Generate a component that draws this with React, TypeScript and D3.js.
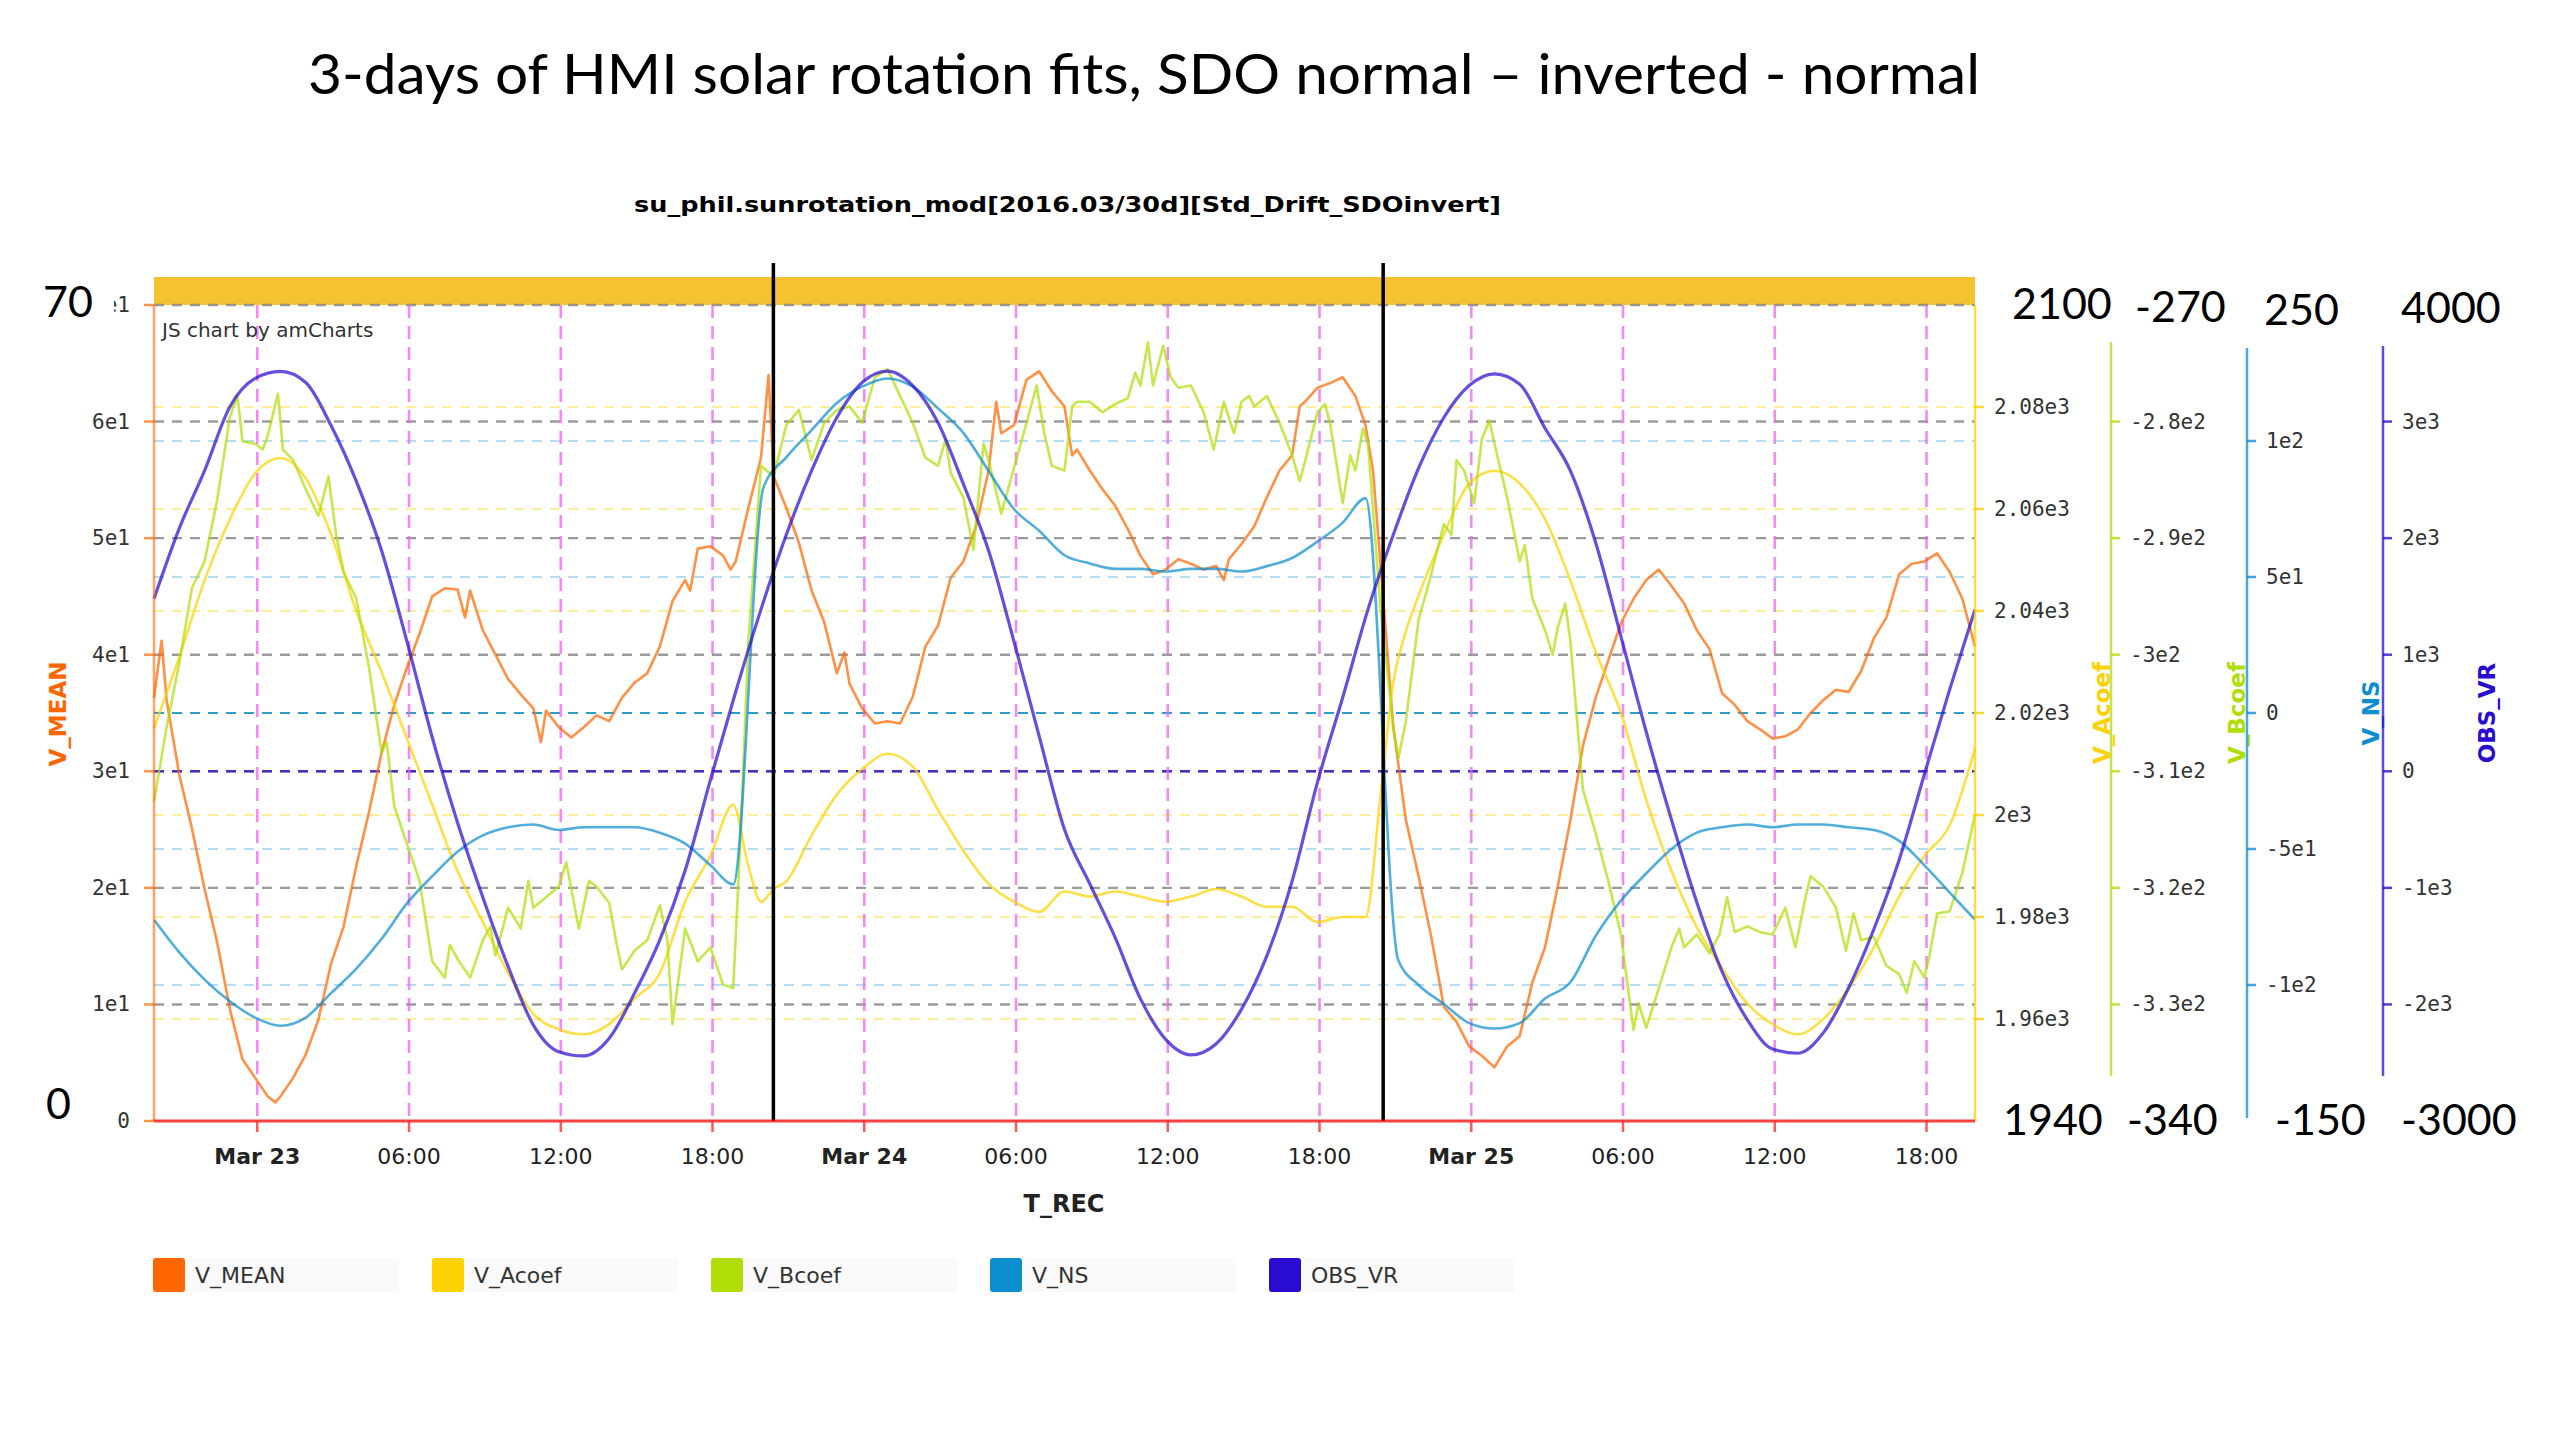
import * as d3 from 'd3'

// hours after the left edge of the plot (Mar 22 19:55)
const T0 = new Date(2016, 2, 22, 19, 55)
const SPAN_HOURS = 72

const vMean: [number, number][] = [
  [0,36.3],[0.3,41.2],[0.5,36.1],[1,29.7],[1.5,25.1],[2,19.9],[2.5,15.3],[3,9.6],[3.5,5.3],[4,3.7],[4.5,2.1],[4.8,1.6],[5,2.1],[5.5,3.7],[6,5.7],[6.5,8.7],[7,13.5],[7.5,16.7],[8,21.9],[8.5,26.5],[9,31.6],[9.5,35.7],[10,38.9],[10.5,41.8],[11,45.0],[11.5,45.7],[12,45.6],[12.3,43.2],[12.5,45.5],[13,42.1],[13.5,40.0],[14,37.9],[14.5,36.6],[15,35.4],[15.3,32.5],[15.5,35.2],[16,33.8],[16.5,32.9],[17,33.8],[17.5,34.8],[18,34.3],
  [18.5,36.3],[19,37.6],[19.5,38.4],[20,40.7],[20.5,44.6],[21,46.4],[21.2,45.5],[21.5,49.1],[22,49.3],[22.5,48.5],[22.8,47.3],[23,48],[23.5,52.6],[24,56.9],[24.3,64],[24.5,55.3],[25,52.6],[25.5,49.6],[26,45.5],[26.5,42.8],[27,38.4],[27.3,40.2],[27.5,37.5],[28,35.4],[28.5,34.1],[29,34.3],[29.5,34.1],[30,36.4],[30.5,40.7],[31,42.5],[31.5,46.6],[32,48],[32.5,51],[33,55.8],[33.3,61.7],[33.5,59],[34,59.7],[34.5,63.6],[35,64.3],[35.5,62.6],[36,61.3],[36.3,57.1],
  [36.5,57.6],[37,55.8],[37.5,54.2],[38,52.8],[38.5,50.8],[39,48.5],[39.5,46.9],[40,47.3],[40.5,48.2],[41,47.8],[41.5,47.3],[42,47.6],[42.3,46.4],[42.5,48.2],[43,49.5],[43.5,51],[44,53.5],[44.5,55.8],[45,57.1],[45.3,61.3],[45.5,61.7],[46,62.9],[46.5,63.3],[47,63.8],[47.5,62.2],[47.9,59.7],[48.2,55.8],[48.5,47.6],[49,33.8],[49.5,25.8],[50,21],[50.5,15.8],[51,9.8],[51.5,8.5],[52,6.4],[52.5,5.6],[53,4.6],[53.5,6.4],[54,7.3],[54.5,11.9],
  [55,14.9],[55.5,20.1],[56,25.8],[56.5,32.2],[57,36.3],[57.5,39.5],[58,42.7],[58.5,44.8],[59,46.4],[59.5,47.3],[60,45.9],[60.5,44.4],[61,42.1],[61.5,40.5],[62,36.7],[62.5,35.7],[63,34.3],[63.5,33.6],[64,32.8],[64.5,33],[65,33.6],[65.5,35],[66,36.1],[66.5,37],[67,36.8],[67.5,38.6],[68,41.4],[68.5,43.2],[69,46.9],[69.5,47.8],[70,48],[70.5,48.7],[71,47.1],[71.5,44.8],[72,40.7],
]

const vAcoef: [number, number][] = [
  [0,2017],[1,2031],[2,2046],[3,2058],[4,2067],[5,2070],[6,2066],[7,2055],[8,2040],[9,2028],[10,2015],[11,2002],[12,1989],[13,1979],[14,1969],[15,1961],[16,1958],[17,1957],[18,1959],[19,1964],[20,1969],[21,1983],[22,1992],[22.9,2002],[23.5,1990],[24,1983],[24.5,1985.5],[25,1987],[26,1996],[27,2004],[28,2009],[29,2012],[30,2009.5],[31,2001],[32,1993],[33,1986.5],[34,1983],[35,1981],[36,1985],
  [37,1984],[38,1985],[39,1984],[40,1983],[41,1984],[42,1985.5],[43,1984],[44,1982],[45,1982],[46,1979],[47,1980],[47.9,1980],[48.5,2004],[49,2026],[49.5,2036],[50,2043],[51,2055],[52,2065],[53,2067.5],[54,2065],[55,2058],[56,2046],[57,2032],[58,2020],[59,2003],[60,1989],[61,1978],[62,1970],[63,1963],[64,1959],[65,1957],[66,1960],[67,1966],[68,1974],[69,1984],[70,1992],[71,1998],[72,2013],
]

const vBcoef: [number, number][] = [
  [0,-312.6],[0.5,-306.2],[1,-300.7],[1.5,-294.3],[2,-292],[2.5,-286.7],[3,-279.6],[3.3,-277.8],[3.5,-281.7],[4,-281.9],[4.3,-282.4],[4.5,-281.2],[4.9,-277.6],[5.1,-282.4],[5.5,-283.3],[6,-285.8],[6.5,-288.1],[6.9,-284.7],[7.2,-289.7],[7.5,-292.9],[8,-295.2],[8.5,-301.1],[9,-308.4],[9.2,-307.5],[9.5,-313],[10,-316.2],[10.5,-319.4],[11,-326.3],[11.5,-327.7],[11.7,-324.9],[12,-326.1],[12.5,-327.7],[13,-324.5],[13.3,-323.3],[13.5,-325.8],[14,-321.7],[14.5,-323.5],[14.8,-319.4],[15,-321.7],[15.5,-320.8],[16,-319.9],[16.3,-317.8],[16.8,-323.5],[17.2,-319.4],[17.5,-319.9],[18,-321.3],[18.3,-324.9],
  [18.5,-327],[19,-325.4],[19.5,-324.5],[20,-321.5],[20.3,-324.5],[20.5,-331.7],[21,-323.5],[21.5,-326.3],[22,-325.1],[22.5,-328.3],[22.9,-328.6],[23.2,-315.3],[23.5,-298.8],[24,-283.8],[24.5,-284.7],[25,-280.3],[25.5,-279],[26,-283.3],[26.5,-280.1],[27,-279],[27.5,-278.7],[28,-280.1],[28.5,-276.2],[29,-275.5],[29.5,-277.8],[30,-280.1],[30.5,-283.1],[31,-283.8],[31.3,-281.5],[31.5,-284.4],[32,-286.5],[32.4,-291],[32.8,-281.9],[33,-283.3],[33.5,-287.9],[34,-284],[34.5,-280.1],[34.9,-276.9],[35.2,-281],[35.5,-283.8],[36,-284.2],[36.3,-278.7],
  [36.5,-278.3],[37,-278.3],[37.5,-279.2],[38,-278.5],[38.5,-278],[38.8,-275.8],[39,-276.9],[39.3,-273.2],[39.5,-276.9],[39.9,-273.5],[40.2,-276.2],[40.5,-277.1],[41,-276.9],[41.5,-279.2],[41.9,-282.4],[42.3,-278.3],[42.7,-281],[43,-278.3],[43.3,-277.8],[43.5,-278.7],[44,-277.8],[44.5,-280.1],[45,-282.9],[45.3,-285.1],[45.5,-283.5],[46,-279.2],[46.3,-278.5],[46.5,-280.1],[47,-287],[47.3,-282.9],[47.5,-284.2],[47.8,-280.6],[48,-281.9],[48.5,-296.1],[49,-306.2],[49.2,-308.9],[49.5,-305.7],[50,-297],[50.5,-293.1],[51,-288.8],[51.3,-289.7],[51.5,-283.3],[51.8,-284.2],[52,-285.6],[52.2,-287],[52.5,-281.5],[52.8,-279.9],[53,-281.9],[53.5,-286.5],[54,-292],[54.2,-290.6],[54.5,-295.2],
  [55,-297.9],[55.3,-300],[55.5,-297.7],[55.8,-295.6],[56,-298.8],[56.5,-311.6],[57,-315.3],[57.5,-319.4],[58,-324],[58.5,-332.2],[58.7,-329.9],[59,-332],[59.5,-328.6],[60,-325.1],[60.3,-323.5],[60.5,-325.1],[61,-324],[61.5,-325.6],[61.9,-324],[62.2,-320.8],[62.5,-323.8],[63,-323.3],[63.5,-323.8],[64,-324],[64.5,-321.7],[64.9,-325.1],[65.3,-320.8],[65.5,-319],[66,-319.9],[66.5,-321.7],[66.9,-325.4],[67.2,-322.2],[67.5,-324.5],[68,-324.2],[68.5,-326.7],[69,-327.4],[69.3,-329],[69.6,-326.3],[70,-327.7],[70.2,-325.8],[70.5,-322.2],[71,-322],[71.5,-318.7],[72,-313.7],
]

const vNS: [number, number][] = [
  [0,-76],[1,-88],[2,-98],[3,-106],[4,-112],[5,-115],[6,-112],[7,-103],[8,-94],[9,-83],[10,-70],[11,-60],[12,-51],[13,-45],[14,-42],[15,-41],[16,-43],[17,-42],[18,-42],[19,-42],[20,-44],[21,-48],[22,-56],[22.9,-63],[24.1,83],[25,94],[26,104],[27,114],[28,120],[29,123],[30,120],[31,112],[32,103],[33,89],[34,75],[35,67],[36,58],
  [37,55],[38,53],[39,53],[40,52],[41,53],[42,53],[43,52],[44,54],[45,57],[46,63],[47,70],[47.9,79],[49.2,-91],[50,-100],[51,-107],[52,-114],[53,-116],[54,-114],[55,-105],[56,-99],[57,-82],[58,-69],[59,-59],[60,-50],[61,-44],[62,-42],[63,-41],[64,-42],[65,-41],[66,-41],[67,-42],[68,-43],[69,-47],[70,-56],[71,-66],[72,-76],
]

const obsVR: [number, number][] = [
  [0,1480],[1,2084],[2,2579],[3,3127],[4,3370],[5,3430],[6,3335],[7,2966],[8,2487],[9,1892],[10,1115],[11,292],[12,-440],[13,-1080],[14,-1674],[15,-2177],[16,-2405],[17,-2442],[18,-2291],[19,-1903],[20,-1446],[21,-851],[22,-74],[23,682],[24,1389],[25,2029],[26,2579],[27,3035],[28,3335],[29,3433],[30,3309],[31,2990],[32,2465],[33,1892],[34,1115],[35,300],[36,-500],
  [37,-965],[38,-1425],[39,-1950],[40,-2300],[41,-2433],[42,-2337],[43,-2040],[44,-1583],[45,-942],[46,-95],[47,633],[48,1389],[49,2029],[50,2600],[51,3035],[52,3309],[53,3410],[54,3320],[55,2943],[56,2579],[57,1963],[58,1158],[59,339],[60,-417],[61,-1124],[62,-1719],[63,-2132],[64,-2383],[65,-2419],[66,-2244],[67,-1859],[68,-1355],[69,-760],[70,-25],[71,703],[72,1389],
]

// SDO roll manoeuvres (hours after T0)
const inversionHours = [24.49, 48.6]

const meanTicks = [0, 10, 20, 30, 40, 50, 60, 70]
const meanTickLabels = ['0', '1e1', '2e1', '3e1', '4e1', '5e1', '6e1', '7e1']
const acoefTicks = [1960, 1980, 2000, 2020, 2040, 2060, 2080]
const acoefTickLabels = ['1.96e3', '1.98e3', '2e3', '2.02e3', '2.04e3', '2.06e3', '2.08e3']
const bcoefTicks = [-330, -320, -310, -300, -290, -280]
const bcoefTickLabels = ['-3.3e2', '-3.2e2', '-3.1e2', '-3e2', '-2.9e2', '-2.8e2']
const nsTicks = [-100, -50, 0, 50, 100]
const nsTickLabels = ['-1e2', '-5e1', '0', '5e1', '1e2']
const obsTicks = [-2000, -1000, 0, 1000, 2000, 3000]
const obsTickLabels = ['-2e3', '-1e3', '0', '1e3', '2e3', '3e3']

const seriesNames = ['V_MEAN', 'V_Acoef', 'V_Bcoef', 'V_NS', 'OBS_VR']
const seriesColors = ['#FF6600', '#FCD202', '#B0DE09', '#0D8ECF', '#2A0CD0']

// hand-written range notes on the slide
const notesTop = ['70', '2100', '-270', '250', '4000']
const notesBottom = ['0', '1940', '-340', '-150', '-3000']

const W = 2560, H = 1440
const L = 154, R = 1975, TOP = 305, BOT = 1121
const mono = '"DejaVu Sans Mono", monospace'
const sans = '"DejaVu Sans", Verdana, sans-serif'
const slide = "Lato, 'Open Sans', sans-serif"

export default function App() {
  const at = (h: number) => new Date(T0.getTime() + h * 3600e3)
  const x = d3.scaleTime().domain([T0, at(SPAN_HOURS)]).range([L, R])
  const yMean = d3.scaleLinear().domain([0, 70]).range([BOT, TOP])
  const yA = d3.scaleLinear().domain([1940, 2100]).range([BOT, TOP])
  const yB = d3.scaleLinear().domain([-340, -270]).range([BOT, TOP])
  const yNS = d3.scaleLinear().domain([-150, 150]).range([BOT, TOP])
  const yObs = d3.scaleLinear().domain([-3000, 4000]).range([BOT, TOP])

  const mk = (y: d3.ScaleLinear<number, number>, smooth: boolean) =>
    d3.line<[number, number]>()
      .x(d => x(at(d[0])))
      .y(d => y(d[1]))
      .curve(smooth ? d3.curveMonotoneX : d3.curveLinear)

  const series = [
    { data: vMean, y: yMean, w: 2.6, smooth: false },
    { data: vAcoef, y: yA, w: 2.6, smooth: true },
    { data: vBcoef, y: yB, w: 2.6, smooth: false },
    { data: vNS, y: yNS, w: 2.6, smooth: true },
    { data: obsVR, y: yObs, w: 3.2, smooth: true },
  ]

  const xTicks = x.ticks(d3.timeHour.every(6)!)
  const fmtDay = d3.timeFormat('%b %d')
  const fmtHour = d3.timeFormat('%H:%M')

  const rightAxes = [
    { x: 1975, y0: TOP, y1: BOT, color: seriesColors[1], ticks: acoefTicks, labels: acoefTickLabels, y: yA, title: 'V_Acoef', tx: 2110 },
    { x: 2111, y0: 342, y1: 1076, color: seriesColors[2], ticks: bcoefTicks, labels: bcoefTickLabels, y: yB, title: 'V_Bcoef', tx: 2245 },
    { x: 2247, y0: 348, y1: 1118, color: seriesColors[3], ticks: nsTicks, labels: nsTickLabels, y: yNS, title: 'V_NS', tx: 2379 },
    { x: 2383, y0: 346, y1: 1076, color: seriesColors[4], ticks: obsTicks, labels: obsTickLabels, y: yObs, title: 'OBS_VR', tx: 2495 },
  ]

  const topNotePos = [[43, 317], [2012, 319], [2135, 322], [2264, 325], [2401, 323]]
  const bottomNotePos = [[46, 1119], [2003, 1135], [2127, 1135], [2275, 1135], [2401, 1135]]

  return (
    <svg width={W} height={H} viewBox={`0 0 ${W} ${H}`}
      style={{ position: 'absolute', left: 0, top: 0, background: '#fff' }}>
      <rect x={0} y={0} width={W} height={H} fill="#fff" />

      {/* slide title */}
      <text x={308} y={94} fontFamily={slide} fontSize={57}
        textLength={1672} lengthAdjust="spacingAndGlyphs" fill="#000">
        3-days of HMI solar rotation fits, SDO normal – inverted - normal
      </text>
      <text x={634} y={212} fontFamily={sans} fontWeight="bold" fontSize={22}
        textLength={867} lengthAdjust="spacingAndGlyphs" fill="#000">
        su_phil.sunrotation_mod[2016.03/30d][Std_Drift_SDOinvert]
      </text>

      {/* top band */}
      <rect x={L} y={277} width={R - L} height={TOP - 277} fill="#F5C330" />

      {/* horizontal grids */}
      {acoefTicks.map(v => (
        <line key={'ga' + v} x1={L} x2={R} y1={yA(v)} y2={yA(v)} stroke="#FCD202" strokeOpacity={0.4} strokeWidth={2} strokeDasharray="10,8" />
      ))}
      {nsTicks.map(v => (
        <line key={'gn' + v} x1={L} x2={R} y1={yNS(v)} y2={yNS(v)} stroke="#0D8ECF"
          strokeOpacity={v === 0 ? 0.85 : 0.3} strokeWidth={2.2} strokeDasharray="10,8" />
      ))}
      {meanTicks.filter(v => v > 0).map(v => (
        <line key={'gm' + v} x1={L} x2={R} y1={yMean(v)} y2={yMean(v)} stroke="#8a8a8a" strokeOpacity={0.85} strokeWidth={2.4} strokeDasharray="10,8" />
      ))}
      <line x1={L} x2={R} y1={yObs(0)} y2={yObs(0)} stroke="#2A0CD0" strokeOpacity={0.75} strokeWidth={2.6} strokeDasharray="10,8" />

      {/* vertical grid */}
      {xTicks.map(t => (
        <line key={'gv' + +t} x1={x(t)} x2={x(t)} y1={TOP} y2={BOT} stroke="#EE66EE" strokeOpacity={0.75} strokeWidth={2.6} strokeDasharray="13,8" />
      ))}

      <text x={162} y={337} fontFamily={sans} fontSize={20} fill="#333">JS chart by amCharts</text>

      {/* series */}
      {series.map((s, i) => (
        <path key={seriesNames[i]} d={mk(s.y, s.smooth)(s.data) ?? ''} fill="none" stroke={seriesColors[i]}
          strokeOpacity={0.72} strokeWidth={s.w} strokeLinejoin="round" />
      ))}

      {/* inversion markers */}
      {inversionHours.map(h => (
        <line key={'inv' + h} x1={x(at(h))} x2={x(at(h))} y1={263} y2={BOT} stroke="#000" strokeWidth={3.5} />
      ))}

      {/* left axis */}
      <line x1={L} x2={L} y1={TOP} y2={BOT} stroke="#FF6600" strokeOpacity={0.6} strokeWidth={2.5} />
      {meanTicks.map((v, i) => (
        <g key={'lm' + v}>
          <line x1={L - 10} x2={L} y1={yMean(v)} y2={yMean(v)} stroke="#FF6600" strokeOpacity={0.7} strokeWidth={2.5} />
          <text x={130} y={yMean(v) + 7} textAnchor="end" fontFamily={mono} fontSize={21} fill="#333">{meanTickLabels[i]}</text>
        </g>
      ))}
      <text transform={`translate(66,714) rotate(-90)`} textAnchor="middle" fontFamily={sans} fontWeight="bold" fontSize={23} fill="#FF6600">V_MEAN</text>

      {/* right axes */}
      {rightAxes.map(a => (
        <g key={a.title}>
          <line x1={a.x} x2={a.x} y1={a.y0} y2={a.y1} stroke={a.color} strokeOpacity={0.75} strokeWidth={2.5} />
          {a.ticks.map((v, i) => (
            <g key={v}>
              <line x1={a.x} x2={a.x + 9} y1={a.y(v)} y2={a.y(v)} stroke={a.color} strokeOpacity={0.8} strokeWidth={2.5} />
              <text x={a.x + 19} y={a.y(v) + 7} fontFamily={mono} fontSize={21} fill="#333">{a.labels[i]}</text>
            </g>
          ))}
          <text transform={`translate(${a.tx},713) rotate(-90)`} textAnchor="middle" fontFamily={sans} fontWeight="bold" fontSize={23} fill={a.color}>{a.title}</text>
        </g>
      ))}

      {/* x axis */}
      <line x1={L} x2={R} y1={BOT} y2={BOT} stroke="#FF0000" strokeOpacity={0.75} strokeWidth={3} />
      {xTicks.map(t => {
        const day = t.getHours() === 0
        return (
          <g key={'xt' + +t}>
            <line x1={x(t)} x2={x(t)} y1={BOT} y2={BOT + 11} stroke="#FF3030" strokeOpacity={0.8} strokeWidth={2.5} />
            <text x={x(t)} y={1164} textAnchor="middle" fontFamily={sans} fontSize={22}
              fontWeight={day ? 'bold' : 'normal'} fill="#222">{day ? fmtDay(t) : fmtHour(t)}</text>
          </g>
        )
      })}
      <text x={1064} y={1212} textAnchor="middle" fontFamily={sans} fontWeight="bold" fontSize={24} fill="#222">T_REC</text>

      {/* legend */}
      {seriesNames.map((n, i) => {
        const lx = 153 + i * 279
        return (
          <g key={'lg' + n}>
            <rect x={lx} y={1258} width={246} height={34} fill="#f6f6f6" opacity={0.5} />
            <rect x={lx} y={1258} width={32} height={34} rx={3} fill={seriesColors[i]} />
            <text x={lx + 42} y={1283} fontFamily={sans} fontSize={22} fill="#333">{n}</text>
          </g>
        )
      })}

      {/* range notes */}
      <rect x={30} y={282} width={84} height={42} fill="#fff" />
      {notesTop.map((s, i) => (
        <text key={'nt' + i} x={topNotePos[i][0]} y={topNotePos[i][1]} fontFamily={slide} fontSize={43} fill="#000">{s}</text>
      ))}
      {notesBottom.map((s, i) => (
        <text key={'nb' + i} x={bottomNotePos[i][0]} y={bottomNotePos[i][1]} fontFamily={slide} fontSize={43} fill="#000">{s}</text>
      ))}
    </svg>
  )
}
